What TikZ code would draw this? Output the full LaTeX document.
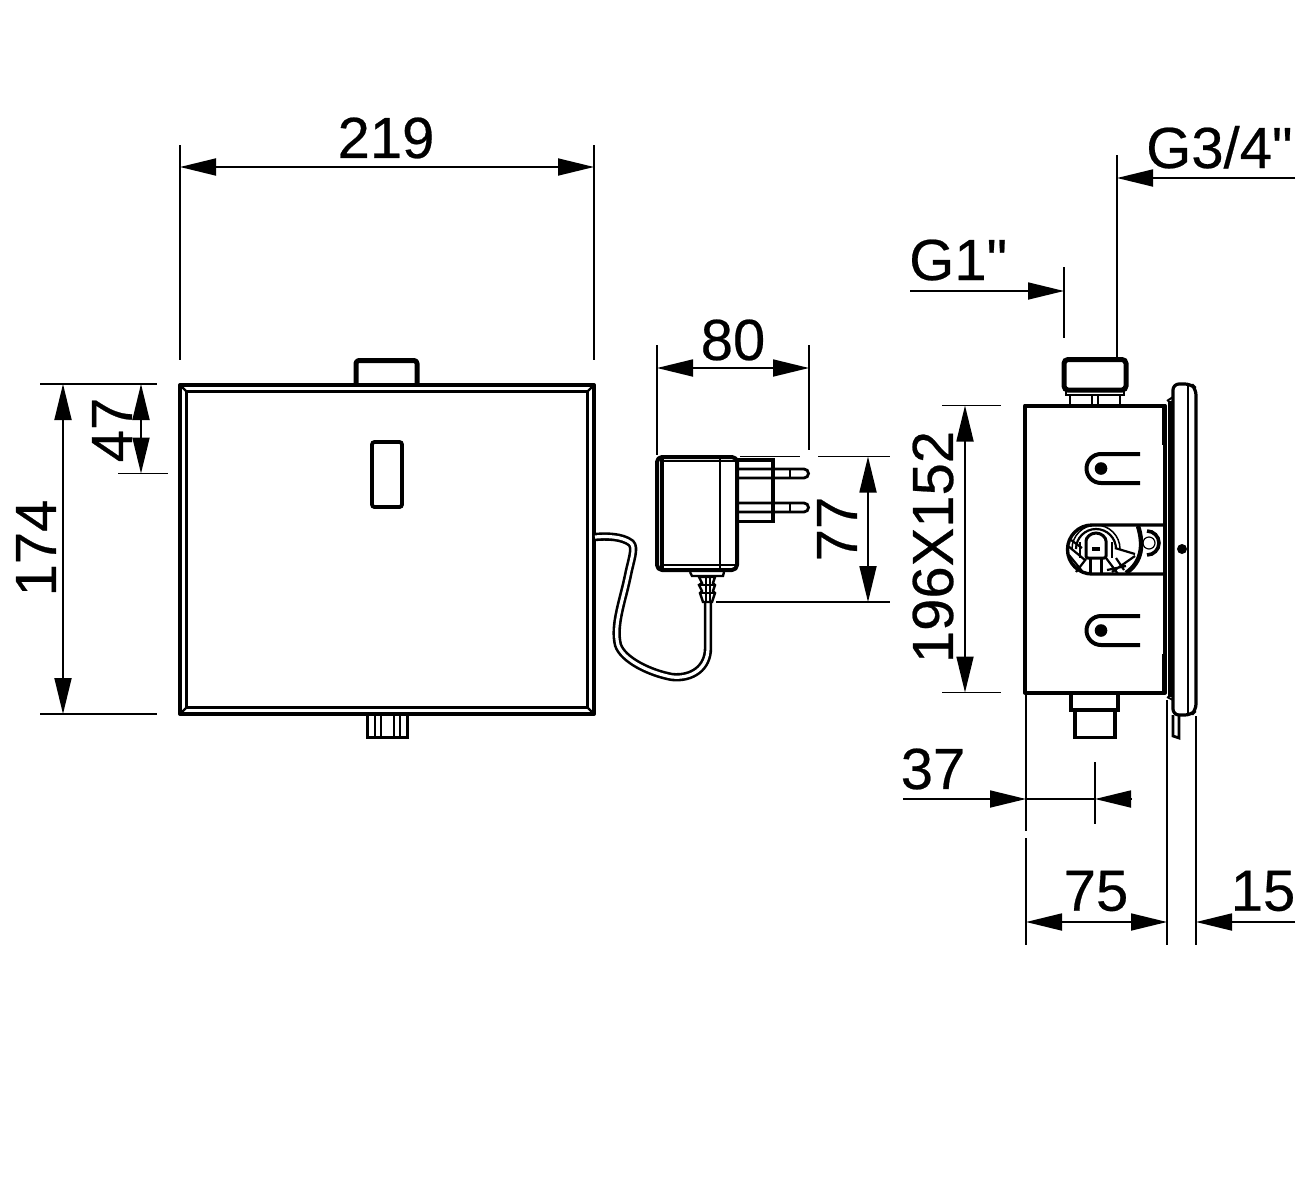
\documentclass[tikz,border=0pt]{standalone}
\usepackage{fontspec}
\setmainfont[FakeBold=0.4]{Liberation Sans}
\newfontfamily\plainlab[FakeBold=0.4]{Liberation Sans}
\usetikzlibrary{arrows.meta}
\tikzset{
  x=1pt,y=-1pt,
  dimline/.style={line width=1.8pt},
  extline/.style={line width=1.8pt},
  both/.style={dimline,{Triangle[length=36pt,width=17pt]}-{Triangle[length=36pt,width=17pt]}},
  tipend/.style={dimline,-{Triangle[length=36pt,width=17pt]}},
  body/.style={line width=4pt,line join=round},
  thick2/.style={line width=5pt,line join=round},
  thin2/.style={line width=2.2pt},
  fine/.style={line width=1.2pt},
  cable/.style={line width=2.6pt,double=white,double distance=3.2pt,line cap=butt},
  lab/.style={inner sep=0pt,font=\fontsize{58}{58}\selectfont\plainlab},
  dot/.style={fill=black,draw=none}
}
\begin{document}
\begin{tikzpicture}
\useasboundingbox (0,0) rectangle (1299,1181);
% front view
\draw[body] (180,385) rectangle (594,714);
\draw[line width=2.8pt] (186.5,391.5) rectangle (587.5,707.5);
\draw[thin2] (180,385)--(187,392) (594,385)--(587,392) (180,714)--(187,707) (594,714)--(587,707);
\draw[thick2] (356,384) -- (356,364) [rounded corners=3pt] -- (356,360.5) -- (417,360.5) [sharp corners] -- (417,384);
\draw[line width=3.8pt,rounded corners=2.5pt] (372,442) rectangle (402,507);
\draw[line width=3pt] (367,716)--(367,737)--(407,737)--(407,716);
\draw[thin2] (375,716)--(375,737) (381,716)--(381,737) (394,716)--(394,737) (400,716)--(400,737);
% adapter cable
\draw[cable] (595,537) .. controls (606,536) and (622,536) .. (631,543) .. controls (636,548) and (631,560) .. (628,575) .. controls (623,600) and (613,625) .. (618,645) .. controls (623,660) and (650,673) .. (672,677) .. controls (692,679) and (708,668) .. (708,648) -- (708,603);
% adapter
\draw[body,rounded corners=5pt,fill=white] (657,457) rectangle (737,570);
\draw[line width=3.4pt] (662,459)--(662,568);
\draw[thin2] (720,458)--(720,569);
\draw[thin2] (660,461)--(735,461) (660,565)--(735,565);
\draw[line width=3.2pt] (737,460)--(773,460)--(773,521.5)--(737,521.5);
\draw[line width=2.8pt] (737,469)--(804,469) arc (270:450:4.5) -- (737,478);
\draw[line width=2.8pt] (737,503)--(804,503) arc (270:450:4.5) -- (737,512);
\draw[fine] (790,469)--(790,478) (790,503)--(790,512);
\draw[line width=2.4pt] (690,572)--(692,576)--(723,576)--(724,572);
\draw[line width=2.4pt,fill=white] (699,577)--(715,577)--(713,583)--(715,585)--(713,591)--(715,593)--(712,602)--(703,602)--(700,593)--(702,591)--(699,585)--(702,583)--cycle;
\draw[thin2] (699,585)--(715,585) (700,593)--(715,593) (706,577)--(706,602) (710,577)--(710,602);
% side view
\draw[body] (1025,405.5) rectangle (1165,692.5);
\draw[line width=5pt,rounded corners=4pt] (1064,359.5) rectangle (1126,390);
\draw[line width=2.8pt] (1066,390)--(1066,395)--(1124,395)--(1124,390);
\draw[line width=2.8pt] (1070,395)--(1070,405) (1120,395)--(1120,405) (1092,395)--(1092,405) (1098,395)--(1098,405);
\draw[line width=3.4pt] (1071,693)--(1071,710)--(1118,710)--(1118,693);
\draw[line width=3.4pt] (1075,710)--(1075,737.5)--(1115,737.5)--(1115,710);
% plate
\draw[line width=3.2pt,rounded corners=6pt] (1173,384)--(1191,384)--(1196,389)--(1196,710)--(1191,715)--(1173,715)--cycle;
\draw[thin2] (1188,385)--(1188,714);
\draw[line width=2.8pt] (1173,715)--(1173,736)--(1179,738)--(1179,715);
\draw[line width=5pt] (1170,401) -- (1170,697);
\draw[line width=2pt] (1167,401)--(1173,397) (1167,697)--(1173,700);
\draw[line width=2.6pt] (1163,406)--(1163,445) (1163,654)--(1163,692);
\fill[dot] (1182,549) circle (5);
% slots
\draw[line width=4pt] (1140,454)--(1101,454) arc (270:90:14.5) -- (1140,483);
\fill[dot] (1101,468.5) circle (6.3);
\draw[line width=4pt] (1140,616)--(1101,616) arc (270:90:14.5) -- (1140,645);
\fill[dot] (1101,630.5) circle (6.3);
% central slot
\draw[line width=3.4pt] (1165,525)--(1092,525) arc (270:90:24.5) -- (1165,574);
\draw[line width=1.5pt] (1072,549) arc (180:360:24);
\draw[thin2] (1076,549) arc (180:360:20);
\draw[line width=3pt,rounded corners=2pt] (1086,558)--(1086,543) arc (180:360:10) -- (1106,558)--cycle;
\draw[line width=3pt] (1090,558)--(1090,574) (1101,558)--(1101,574);
\draw[line width=2.2pt] (1080,542)--(1080,558) (1112,542)--(1112,558);
\draw[line width=3.6pt] (1092,549)--(1100,549);
\draw[thin2] (1069,555)--(1082,571) (1068,546)--(1085,560) (1076,572)--(1086,559) (1106,558)--(1118,574) (1115,548)--(1135,554) (1135,556)--(1112,572) (1107,570)--(1126,566) (1071,540)--(1082,548) (1116,558)--(1124,570);
\draw[line width=4.5pt] (1138,526) .. controls (1144,545) and (1142,562) .. (1126,573);
\draw[line width=3.6pt] (1147,531) arc (270:450:12);
\draw[fine] (1149,543) circle (6);
% dimension: 219
\draw[extline] (180,145)--(180,360) (594,145)--(594,360);
\draw[both] (180,167)--(594,167);
\node[lab] (t219) at (386,138) {219};
% 174
\draw[extline] (40,384)--(157,384) (40,714)--(157,714);
\draw[both] (63,384)--(63,714);
\node[lab,rotate=90] (t174) at (36,548) {174};
% 47
\draw[extline] (118,473.5)--(168,473.5);
\draw[both] (141,384)--(141,473.5);
\node[lab,rotate=90] (t47) at (112,430) {47};
% 80
\draw[extline] (657,345)--(657,455) (809,345)--(809,450);
\draw[both] (657,368)--(809,368);
\node[lab] (t80) at (733,340) {80};
% 77
\draw[extline] (740,456.5)--(800,456.5) (818,456.5)--(890,456.5) (716,602)--(890,602);
\draw[both] (868,456.5)--(868,602);
\node[lab,rotate=90] (t77) at (837,529) {77};
% 196X152
\draw[extline] (942,405.5)--(1001,405.5) (942,692.5)--(1001,692.5);
\draw[both] (965,405.5)--(965,692.5);
\node[lab,rotate=90] (t196) at (933,547) {196X152};
% G3/4
\draw[extline] (1117,155)--(1117,357);
\draw[tipend] (1295,178)--(1117,178);
\node[lab,anchor=base west] (tg34) at (1146,168) {G3/4"};
% G1
\draw[extline] (1064,267)--(1064,338);
\draw[tipend] (910,291)--(1064,291);
\node[lab,anchor=base west] (tg1) at (909,280) {G1"};
% 37
\draw[extline] (1026,694)--(1026,831) (1095,762)--(1095,824);
\draw[tipend] (903,799)--(1026,799);
\draw[dimline] (1026,799)--(1095,799);
\draw[dimline,{Triangle[length=36pt,width=17pt]}-] (1095,799)--(1131,799);
\node[lab] (t37) at (933,769) {37};
% 75
\draw[extline] (1026,838)--(1026,945) (1167,700)--(1167,945);
\draw[both] (1026,922)--(1167,922);
\node[lab] (t75) at (1096,891) {75};
% 15
\draw[extline] (1196,716)--(1196,945);
\draw[tipend] (1295,922)--(1196,922);
\node[lab] (t15) at (1263,891) {15};
\end{tikzpicture}
\end{document}
